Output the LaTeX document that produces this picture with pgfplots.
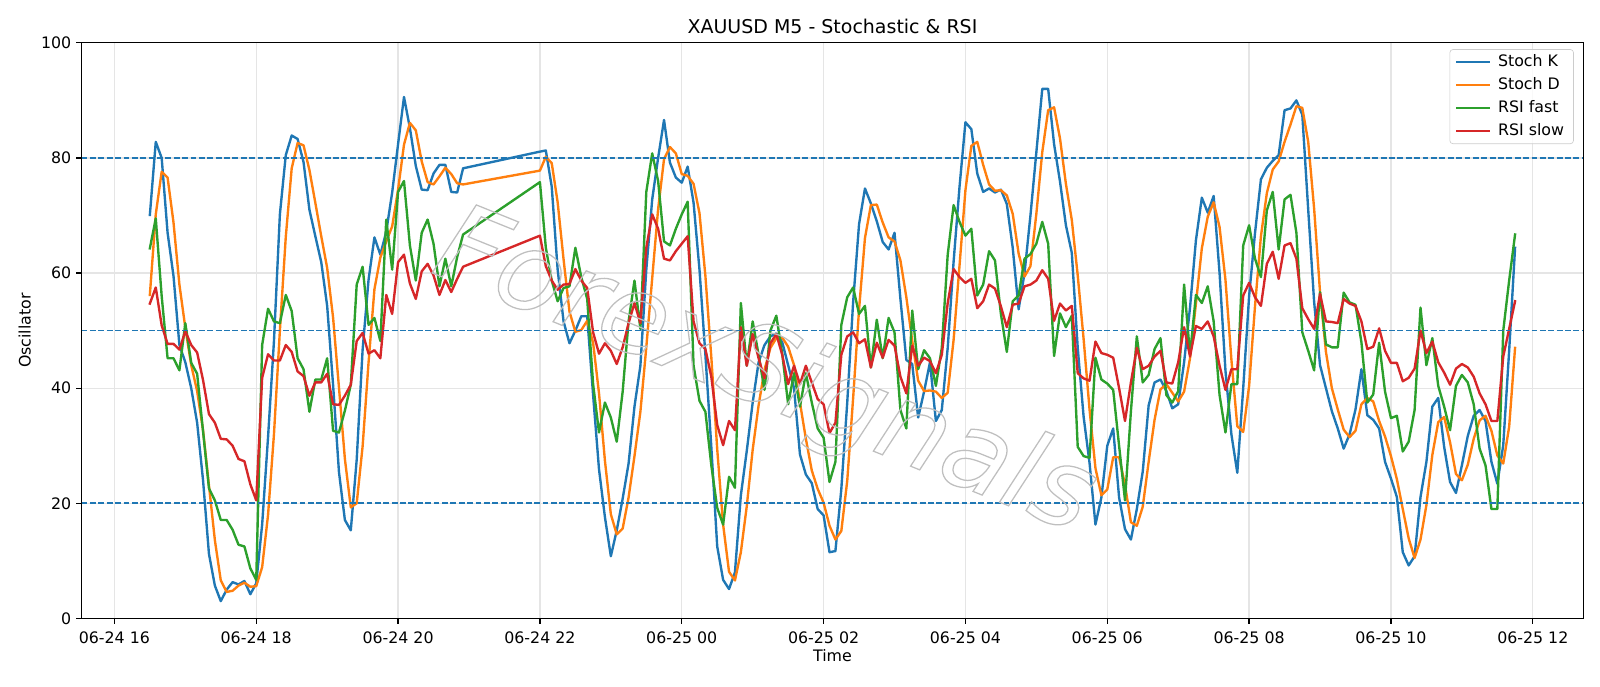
\documentclass[border=0pt]{standalone}
\usepackage{fontspec}
\setmainfont{DejaVu Sans}
\usepackage{pgfplots}
\usepackage{pgfplotstable}
\pgfplotsset{compat=1.18}

\definecolor{c0}{HTML}{1F77B4}
\definecolor{c1}{HTML}{FF7F0E}
\definecolor{c2}{HTML}{2CA02C}
\definecolor{c3}{HTML}{D62728}

% x = minutes since 06-24 16:30 (5-minute bars); the market break 20:55-22:00 is bridged
\pgfplotstableread{
x K D F S
0 70.1 56.2 64.3 54.7
5 82.8 70.2 69.5 57.5
10 80.0 77.6 56.0 50.9
15 67.0 76.6 45.2 47.7
20 59.5 68.8 45.2 47.7
25 47.5 58.0 43.1 46.7
30 44.5 50.5 51.3 49.9
35 40.0 44.0 44.4 47.5
40 34.0 39.5 42.5 46.2
45 24.0 32.7 32.5 41.4
50 11.2 23.1 22.6 35.5
55 5.7 13.6 20.5 34.0
60 3.0 6.6 17.1 31.2
65 5.0 4.6 17.1 31.1
70 6.3 4.8 15.4 30.0
75 5.9 5.7 12.8 27.7
80 6.5 6.2 12.5 27.3
85 4.2 5.5 8.7 23.3
90 6.1 5.6 6.7 20.5
95 16.3 8.9 47.5 41.8
100 31.5 18.0 53.8 45.9
105 48.2 32.0 51.6 44.8
110 70.2 50.0 51.3 44.8
115 80.5 66.3 56.2 47.5
120 83.9 78.2 53.4 46.3
125 83.3 82.6 45.2 42.9
130 79.3 82.2 43.3 42.1
135 71.0 77.9 35.9 38.7
140 66.4 72.2 41.5 41.0
145 61.9 66.4 41.5 41.0
150 54.3 60.9 45.2 42.5
155 40.6 52.3 32.6 37.2
160 25.4 40.1 32.3 37.1
165 17.1 27.7 36.1 38.7
170 15.3 19.3 40.6 40.6
175 27.6 20.0 58.0 48.2
180 46.7 29.9 61.1 49.6
185 58.8 44.4 51.0 46.0
190 66.2 57.2 52.2 46.6
195 63.2 62.7 48.2 45.2
200 67.2 65.5 69.3 56.2
205 74.0 68.1 60.6 52.9
210 82.4 74.5 74.1 61.9
215 90.6 82.3 76.0 63.2
220 85.2 86.1 64.8 58.2
225 78.6 84.8 58.7 55.5
230 74.5 79.4 67.0 60.3
235 74.4 75.8 69.3 61.6
240 77.3 75.4 65.1 59.6
245 78.8 76.8 57.7 56.2
250 78.8 78.3 62.5 58.8
255 74.1 77.2 57.7 56.7
260 74.0 75.6 62.8 59.0
265 78.2 75.4 66.7 61.1
330 81.1 77.8 75.8 66.5
335 81.3 80.2 64.4 61.2
340 75.0 79.1 58.7 58.7
345 60.6 72.3 55.1 57.1
350 51.6 62.4 57.4 58.0
355 47.8 53.3 57.7 58.1
360 50.0 49.8 64.4 60.7
365 52.5 50.1 59.3 58.7
370 52.5 51.7 55.5 57.4
375 38.8 47.9 40.7 49.7
380 25.9 39.1 32.3 46.0
385 17.6 27.4 37.5 47.8
390 10.8 18.1 34.9 46.5
395 15.3 14.6 30.7 44.2
400 20.8 15.6 39.4 47.1
405 26.9 21.0 51.6 51.3
410 36.8 28.2 58.7 54.8
415 43.9 35.9 50.3 51.3
420 60.6 47.1 74.1 64.4
425 72.8 59.1 80.8 70.2
430 80.0 71.1 76.0 67.7
435 86.6 79.8 65.5 62.5
440 79.2 81.9 64.8 62.2
445 76.6 80.8 67.7 63.8
450 75.7 77.2 70.2 65.1
455 78.5 76.9 72.4 66.4
460 72.2 75.5 43.9 51.6
465 60.6 70.4 37.8 47.8
470 45.8 59.5 35.9 46.8
475 29.8 45.4 26.6 42.0
480 12.5 29.4 19.2 33.6
485 6.7 16.3 16.3 30.1
490 5.1 8.1 24.6 34.3
495 8.0 6.6 22.7 32.7
500 21.4 11.5 54.8 50.6
505 29.1 19.5 43.9 43.9
510 37.5 29.3 51.6 49.4
515 44.5 37.0 45.8 45.2
520 47.5 43.2 39.7 41.7
525 49.0 47.0 50.0 47.8
530 49.5 48.7 52.6 49.4
535 48.0 48.8 46.0 45.8
540 44.0 47.2 37.2 40.7
545 40.0 44.0 42.6 43.9
550 28.5 37.5 36.8 40.7
555 25.0 31.2 42.6 43.9
560 23.5 25.7 37.5 41.0
565 19.0 22.5 33.0 38.1
570 17.9 20.1 31.4 37.2
575 11.5 16.1 23.7 32.2
580 11.7 13.7 27.2 34.0
585 22.5 15.2 51.0 45.8
590 37.5 23.9 55.8 49.0
595 55.0 38.3 57.5 49.7
600 68.5 53.7 52.9 47.8
605 74.7 66.1 54.3 48.5
610 72.1 71.8 43.6 43.6
615 69.0 71.9 51.9 47.9
620 65.4 68.8 45.2 45.3
625 64.1 66.2 52.2 48.4
630 67.0 65.5 49.7 47.4
635 55.5 62.2 36.2 42.0
640 44.9 55.8 33.0 39.1
645 44.2 48.2 53.5 47.4
650 34.9 41.3 43.3 43.9
655 39.4 39.5 46.6 45.3
660 44.5 39.6 45.2 44.7
665 34.3 39.4 40.4 42.6
670 36.2 38.3 47.0 45.8
675 47.0 39.2 63.2 54.8
680 62.0 48.4 71.8 60.7
685 75.0 61.3 68.9 59.3
690 86.2 74.4 66.5 58.3
695 85.0 82.1 67.7 59.0
700 77.3 82.8 56.1 53.9
705 74.1 78.8 58.0 55.1
710 74.7 75.4 63.8 58.0
715 74.0 74.3 62.2 57.3
720 74.5 74.4 52.9 54.2
725 72.0 73.5 46.3 50.6
730 64.4 70.3 55.1 54.5
735 53.7 63.4 56.1 54.7
740 60.0 59.4 62.5 57.7
745 70.0 61.2 63.3 58.0
750 81.0 70.3 65.1 58.7
755 92.0 81.0 68.9 60.5
760 92.0 88.3 65.1 59.0
765 82.4 88.8 45.6 51.7
770 75.9 83.4 53.0 54.7
775 68.3 75.5 50.6 53.5
780 63.5 69.2 52.6 54.3
785 47.0 59.6 29.8 42.6
790 35.0 48.5 28.2 41.7
795 27.0 36.3 27.9 41.3
800 16.3 26.1 45.3 48.1
805 21.0 21.4 41.5 46.1
810 30.0 22.4 40.8 45.8
815 33.0 28.0 39.7 45.3
820 21.0 28.0 30.0 40.0
825 15.5 23.2 20.5 34.3
830 13.7 16.7 36.0 41.0
835 19.0 16.1 49.0 47.0
840 25.5 19.4 41.0 43.3
845 37.0 27.2 42.3 43.9
850 41.0 34.5 46.8 45.5
855 41.5 39.8 48.7 46.5
860 39.5 40.7 38.8 41.0
865 36.5 39.2 37.5 40.8
870 37.2 37.7 39.5 44.5
875 44.5 39.4 58.0 50.6
880 54.0 45.2 45.8 45.5
885 65.7 54.7 56.2 50.8
890 73.1 64.3 54.8 50.3
895 70.5 69.8 57.7 51.6
900 73.4 72.3 51.6 49.0
905 60.0 68.0 38.8 43.9
910 43.0 58.8 32.3 39.7
915 32.0 45.0 40.7 43.3
920 25.3 33.4 40.7 43.3
925 40.0 32.4 64.8 56.1
930 56.0 40.4 68.3 58.3
935 67.0 54.3 62.5 55.8
940 76.3 66.4 59.3 54.3
945 78.3 73.9 70.9 61.6
950 79.5 78.0 74.1 63.7
955 80.5 79.4 64.1 59.0
960 88.3 82.8 72.8 64.8
965 88.6 85.8 73.6 65.2
970 90.0 89.0 67.0 62.5
975 87.5 88.7 49.7 53.9
980 71.0 82.8 46.5 52.0
985 55.0 71.2 43.1 50.3
990 44.0 56.7 56.7 56.4
995 40.0 46.3 47.6 51.6
1000 36.0 40.0 47.1 51.5
1005 33.0 36.3 47.1 51.3
1010 29.5 32.8 56.6 55.5
1015 32.0 31.5 54.9 54.7
1020 36.3 32.6 54.5 54.3
1025 43.3 37.2 48.0 51.6
1030 35.3 38.3 37.5 46.8
1035 34.5 37.7 38.9 47.2
1040 33.0 34.3 47.9 50.4
1045 27.2 31.6 39.4 46.5
1050 24.3 28.2 34.8 44.4
1055 21.1 24.2 35.2 44.4
1060 11.5 19.0 29.0 41.2
1065 9.2 13.9 30.7 41.8
1070 10.8 10.5 36.2 43.4
1075 21.1 13.7 54.0 50.0
1080 27.2 19.7 44.0 46.1
1085 36.8 28.4 48.7 48.1
1090 38.3 34.1 40.4 44.5
1095 29.8 35.0 36.8 42.7
1100 23.7 30.6 32.7 40.6
1105 21.8 25.1 40.4 43.4
1110 26.6 24.0 42.3 44.2
1115 31.7 26.7 41.0 43.6
1120 35.2 31.2 37.2 42.0
1125 36.2 34.4 29.5 39.1
1130 34.3 35.2 26.6 37.2
1135 27.2 32.6 19.0 34.3
1140 23.4 28.3 19.0 34.3
1145 30.1 26.9 50.0 45.5
1150 46.5 33.3 58.7 50.3
1155 64.4 47.0 66.7 55.1
}\osc

\begin{document}
\begin{tikzpicture}
% 14in x 6in canvas, axis box at the origin
\useasboundingbox (-0.714in,-0.5915in) rectangle (13.286in,5.411in);
\begin{axis}[
  at={(0,0)}, anchor=south west,
  scale only axis, width=13.14in, height=5.036in,
  xmin=-57.75, xmax=1212.75, ymin=0, ymax=100,
  xtick={-30,90,210,330,450,570,690,810,930,1050,1170},
  xticklabels={06-24 16,06-24 18,06-24 20,06-24 22,06-25 00,06-25 02,06-25 04,06-25 06,06-25 08,06-25 10,06-25 12},
  ytick={0,20,40,60,80,100},
  /pgf/number format/assume math mode=true,
  tick align=outside, xtick pos=lower, ytick pos=left,
  major tick length=3.5pt,
  tick style={black, line width=0.8pt},
  axis line style={line width=0.8pt},
  xticklabel style={yshift=-1.5pt},
  yticklabel style={xshift=0.5pt},
  grid=major,
  major grid style={line width=0.8pt, color=black!10},
  title={XAUUSD M5 - Stochastic \& RSI},
  title style={font=\large, anchor=base},
  xlabel={Time}, ylabel={Oscillator},
  xlabel style={at={(axis description cs:0.5,-0.0651)}, anchor=center},
  ylabel style={at={(axis description cs:-0.0379,0.5)}, anchor=center},
  legend cell align=left,
  legend style={at={(1,1)}, anchor=north east, xshift=-6pt, yshift=-4pt,
    draw=black!20, rounded corners=2pt, fill=white, fill opacity=0.8, text opacity=1,
    inner xsep=4pt, inner ysep=3pt, row sep=4.8pt,
    nodes={inner ysep=0pt, text height=7.6pt, text depth=2.2pt}},
  legend image code/.code={
    \draw[#1, line width=1.5pt, line cap=rect] (0pt,0pt) -- (20pt,0pt);
    \path (23pt,0pt);},
  every axis plot/.append style={line width=1.5pt, line join=round, line cap=rect},
]
\addplot[c0] table[x=x, y=K] {\osc};
\addplot[c1] table[x=x, y=D] {\osc};
\addplot[c2] table[x=x, y=F] {\osc};
\addplot[c3] table[x=x, y=S] {\osc};
\legend{Stoch K, Stoch D, RSI fast, RSI slow}
\addplot[c0, line width=1pt, line cap=butt, dash pattern=on 3.7pt off 1.6pt, forget plot] coordinates {(-57.75,80) (1212.75,80)};
\addplot[c0, line width=1pt, line cap=butt, dash pattern=on 3.7pt off 1.6pt, forget plot] coordinates {(-57.75,50) (1212.75,50)};
\addplot[c0, line width=1pt, line cap=butt, dash pattern=on 3.7pt off 1.6pt, forget plot] coordinates {(-57.75,20) (1212.75,20)};
\end{axis}
% watermark
\node[rotate=-22, text=black!25, font=\fontsize{69}{69}\selectfont\itshape] at (5.974in,2.133in)
  {\special{pdf:literal direct 1 Tr 0.8 w}ForexSignals\special{pdf:literal direct 0 Tr}};
\end{tikzpicture}
\end{document}
